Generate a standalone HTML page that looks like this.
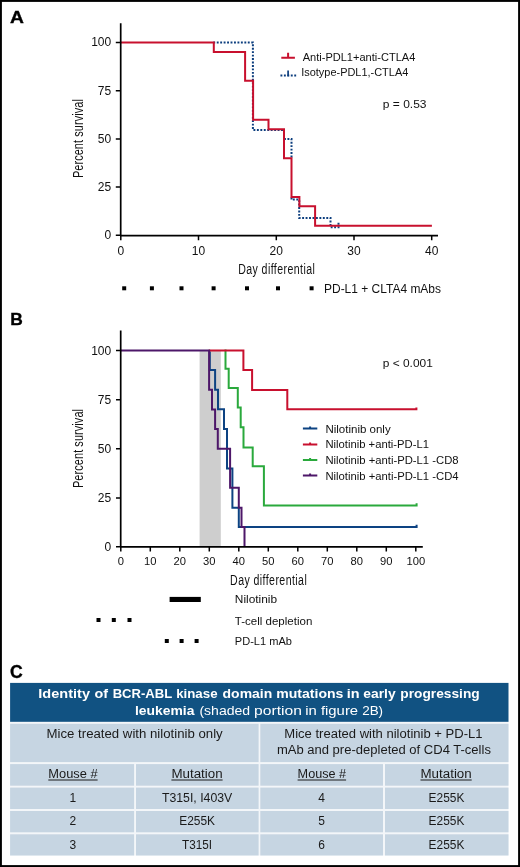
<!DOCTYPE html>
<html>
<head>
<meta charset="utf-8">
<style>
html,body{margin:0;padding:0;background:#fff;}
body{width:520px;height:867px;overflow:hidden;}
svg{display:block;will-change:transform;}
text{font-family:"Liberation Sans",sans-serif;}
</style>
</head>
<body>
<svg width="520" height="867" viewBox="0 0 520 867">
<rect x="0" y="0" width="520" height="867" fill="#fff"/>
<!-- outer border -->
<rect x="0.9" y="0.9" width="518.2" height="865.2" fill="none" stroke="#000" stroke-width="2"/>

<!-- ============ PANEL A ============ -->
<text transform="translate(9.9,23) scale(1.12,1)" font-size="17.2" font-weight="700" fill="#000" stroke="#000" stroke-width="0.35">A</text>

<g id="A">
  <!-- curves -->
  <path d="M213.3,42.5 H252.9 V130 H284 M284,138.9 H291.5 V158.3 M291.5,197.5 V199.6 H299.2 V217.9 H330.5 V227.3 H338.5 V221.8" fill="none" stroke="#0c3e7e" stroke-width="2" stroke-dasharray="1.9 1.55"/>
  <path d="M120.7,42.5 H213.8 V52.1 H245.1 V80.8 H253.1 V119.7 H268.5 V129.2 H284 V158.3 H291.5 V197.1 H299.4 V206.3 H315.1 V225.8 H431.9" fill="none" stroke="#c8102e" stroke-width="2"/>
  <!-- axes -->
  <path d="M120.7,23.3 V235.6 M120,235.6 H438" stroke="#000" stroke-width="1.7" fill="none"/>
  <path d="M115.8,42.5 H120.7 M115.8,90.7 H120.7 M115.8,138.9 H120.7 M115.8,187.1 H120.7 M115.8,235.3 H120.7" stroke="#000" stroke-width="1.5"/>
  <path d="M120.8,235.6 V240.2 M198.5,235.6 V240.2 M276.3,235.6 V240.2 M354,235.6 V240.2 M431.7,235.6 V240.2" stroke="#000" stroke-width="1.5"/>
  <!-- y tick labels -->
  <g font-size="12" fill="#111" text-anchor="end">
    <text x="111.2" y="46">100</text>
    <text x="111.2" y="94.5">75</text>
    <text x="111.2" y="142.7">50</text>
    <text x="111.2" y="190.9">25</text>
    <text x="111.2" y="239.1">0</text>
  </g>
  <!-- x tick labels -->
  <g font-size="12" fill="#111" text-anchor="middle">
    <text x="120.8" y="254.9">0</text>
    <text x="198.5" y="254.9">10</text>
    <text x="276.3" y="254.9">20</text>
    <text x="354" y="254.9">30</text>
    <text x="431.7" y="254.9">40</text>
  </g>
  <text transform="translate(82.9,138.6) rotate(-90) scale(0.76,1)" text-anchor="middle" font-size="14.4" fill="#111" textLength="104" lengthAdjust="spacing">Percent survival</text>
  <text transform="translate(238.2,273.8) scale(0.74,1)" font-size="14.3" fill="#111" textLength="103.6" lengthAdjust="spacing">Day differential</text>
  <!-- legend -->
  <path d="M281.3,57.8 H294.9 M288.1,52.8 V57.8" stroke="#c8102e" stroke-width="2" fill="none"/>
  <path d="M280.45,75.6 H296.5" stroke="#0c3e7e" stroke-width="2" stroke-dasharray="1.9 1.55" fill="none"/>
  <path d="M288.1,70.6 V76.2" stroke="#0c3e7e" stroke-width="1.7" fill="none"/>
  <text x="302.7" y="61.2" font-size="11" fill="#111" textLength="112.6" lengthAdjust="spacingAndGlyphs">Anti-PDL1+anti-CTLA4</text>
  <text x="301.2" y="76.2" font-size="11" fill="#111" textLength="107.1" lengthAdjust="spacingAndGlyphs">Isotype-PDL1,-CTLA4</text>
  <text x="382.8" y="108.2" font-size="11" fill="#111" textLength="43.7" lengthAdjust="spacingAndGlyphs">p = 0.53</text>
  <!-- dosing squares -->
  <g fill="#000">
    <rect x="122.2" y="286.3" width="4" height="4"/>
    <rect x="149.9" y="286.3" width="4" height="4"/>
    <rect x="179.5" y="286.3" width="4" height="4"/>
    <rect x="211.6" y="286.3" width="4" height="4"/>
    <rect x="245" y="286.3" width="4" height="4"/>
    <rect x="276" y="286.3" width="4" height="4"/>
    <rect x="309.6" y="286.3" width="4" height="4"/>
  </g>
  <text x="324" y="292.5" font-size="12" fill="#111" textLength="117" lengthAdjust="spacingAndGlyphs">PD-L1 + CLTA4 mAbs</text>
</g>

<!-- ============ PANEL B ============ -->
<text x="10.3" y="325.2" font-size="17.4" font-weight="700" fill="#000" stroke="#000" stroke-width="0.35">B</text>
<g id="B">
  <rect x="199.6" y="350.6" width="21.2" height="196.2" fill="#cecece"/>
  <!-- curves -->
  <path d="M224.5,350.6 H225.5 V368.7 H228.7 V388.1 H237.8 V407.6 H240.7 V427.2 H243.5 V447.4 H252.7 V466.2 H263.9 V505.4 H416.6 V503.2" fill="none" stroke="#2aa93c" stroke-width="2"/>
  <path d="M209.8,351.5 V370.1 H215.1 V389.8 H218 V409.2 H224 V428.9 H227 V468.5 H232.4 V507.7 H238.8 V526.9 H416.6 V524.8" fill="none" stroke="#0d4382" stroke-width="2"/>
  <path d="M208.6,350.6 H243.4 V370.1 H252.1 V390 H287.3 V409.3 H416.4 V407.4" fill="none" stroke="#c8102e" stroke-width="2"/>
  <path d="M120.7,350.6 H209.1 V389.8 H212 V409.5 H215.1 V428.9 H217.8 V448.8 H230.1 V487.7 H238.8 V507.7 H241.5 V526.9 H244.5 V546.2" fill="none" stroke="#4d1769" stroke-width="2"/>
  <!-- axes -->
  <path d="M120.7,330.4 V546.8 M120,546.8 H422.8" stroke="#000" stroke-width="1.7" fill="none"/>
  <path d="M116,350.6 H120.7 M116,399.7 H120.7 M116,448.8 H120.7 M116,497.9 H120.7 M116,546.8 H120.7" stroke="#000" stroke-width="1.5"/>
  <path d="M120.8,546.8 V551.4 M150.3,546.8 V551.4 M179.8,546.8 V551.4 M209.3,546.8 V551.4 M238.8,546.8 V551.4 M268.3,546.8 V551.4 M297.8,546.8 V551.4 M327.3,546.8 V551.4 M356.8,546.8 V551.4 M386.3,546.8 V551.4 M415.8,546.8 V551.4" stroke="#000" stroke-width="1.5"/>
  <g font-size="12" fill="#111" text-anchor="end">
    <text x="111.2" y="354.6">100</text>
    <text x="111.2" y="403.7">75</text>
    <text x="111.2" y="452.8">50</text>
    <text x="111.2" y="501.9">25</text>
    <text x="111.2" y="550.8">0</text>
  </g>
  <g font-size="11.2" fill="#111" text-anchor="middle">
    <text x="120.8" y="564.9">0</text>
    <text x="150.3" y="564.9">10</text>
    <text x="179.8" y="564.9">20</text>
    <text x="209.3" y="564.9">30</text>
    <text x="238.8" y="564.9">40</text>
    <text x="268.3" y="564.9">50</text>
    <text x="297.8" y="564.9">60</text>
    <text x="327.3" y="564.9">70</text>
    <text x="356.8" y="564.9">80</text>
    <text x="386.3" y="564.9">90</text>
    <text x="415.8" y="564.9">100</text>
  </g>
  <text transform="translate(82.9,448.5) rotate(-90) scale(0.76,1)" text-anchor="middle" font-size="14.4" fill="#111" textLength="104" lengthAdjust="spacing">Percent survival</text>
  <text transform="translate(230.1,584.9) scale(0.74,1)" font-size="14.3" fill="#111" textLength="103.6" lengthAdjust="spacing">Day differential</text>
  <text x="382.8" y="367.2" font-size="11" fill="#111" textLength="50" lengthAdjust="spacingAndGlyphs">p &lt; 0.001</text>
  <!-- legend -->
  <path d="M302.9,428.6 H317.3 M310.1,426.6 V428.6" stroke="#0d4382" stroke-width="2" fill="none"/>
  <path d="M302.9,444.4 H317.3 M310.1,442.4 V444.4" stroke="#c8102e" stroke-width="2" fill="none"/>
  <path d="M302.9,460.1 H317.3 M310.1,458.1 V460.1" stroke="#2aa93c" stroke-width="2" fill="none"/>
  <path d="M302.9,475.6 H317.3 M310.1,473.6 V475.6" stroke="#4d1769" stroke-width="2" fill="none"/>
  <g font-size="10.7" fill="#111">
    <text x="325.4" y="432.6" textLength="65.3" lengthAdjust="spacingAndGlyphs">Nilotinib only</text>
    <text x="325.4" y="448.3" textLength="103.6" lengthAdjust="spacingAndGlyphs">Nilotinib +anti-PD-L1</text>
    <text x="325.4" y="464" textLength="133.2" lengthAdjust="spacingAndGlyphs">Nilotinib +anti-PD-L1 -CD8</text>
    <text x="325.4" y="479.7" textLength="133.2" lengthAdjust="spacingAndGlyphs">Nilotinib +anti-PD-L1 -CD4</text>
  </g>
  <!-- treatment schedule -->
  <rect x="169.6" y="596.9" width="31.2" height="5.1" fill="#000"/>
  <g fill="#000">
    <rect x="96.5" y="618" width="4" height="4"/>
    <rect x="111.8" y="618" width="4" height="4"/>
    <rect x="127.5" y="618" width="4" height="4"/>
    <rect x="164.8" y="639" width="4" height="4"/>
    <rect x="179.6" y="639" width="4" height="4"/>
    <rect x="194.6" y="639" width="4" height="4"/>
  </g>
  <g font-size="11" fill="#111">
    <text x="234.8" y="603.4" textLength="42.3" lengthAdjust="spacingAndGlyphs">Nilotinib</text>
    <text x="234.8" y="624.5" textLength="77.5" lengthAdjust="spacingAndGlyphs">T-cell depletion</text>
    <text x="234.8" y="645.3" textLength="57.1" lengthAdjust="spacingAndGlyphs">PD-L1 mAb</text>
  </g>
</g>

<!-- ============ PANEL C ============ -->
<text x="9.9" y="678" font-size="17.6" font-weight="700" fill="#000" stroke="#000" stroke-width="0.35">C</text>
<g id="C">
  <rect x="10.1" y="682.9" width="498.4" height="39" fill="#115282"/>
  <rect x="10.1" y="721.9" width="498.4" height="133.6" fill="#f3f6f9"/>
  <g fill="#c6d5e2">
    <rect x="10.1" y="723.8" width="248.5" height="38.3"/>
    <rect x="260.3" y="723.8" width="248.2" height="38.3"/>
    <rect x="10.1" y="764.1" width="124" height="21.6"/>
    <rect x="136" y="764.1" width="122.6" height="21.6"/>
    <rect x="260.3" y="764.1" width="122.7" height="21.6"/>
    <rect x="385" y="764.1" width="123.5" height="21.6"/>
    <rect x="10.1" y="787.6" width="124" height="21.4"/>
    <rect x="136" y="787.6" width="122.6" height="21.4"/>
    <rect x="260.3" y="787.6" width="122.7" height="21.4"/>
    <rect x="385" y="787.6" width="123.5" height="21.4"/>
    <rect x="10.1" y="811" width="124" height="21.3"/>
    <rect x="136" y="811" width="122.6" height="21.3"/>
    <rect x="260.3" y="811" width="122.7" height="21.3"/>
    <rect x="385" y="811" width="123.5" height="21.3"/>
    <rect x="10.1" y="834.3" width="124" height="21.2"/>
    <rect x="136" y="834.3" width="122.6" height="21.2"/>
    <rect x="260.3" y="834.3" width="122.7" height="21.2"/>
    <rect x="385" y="834.3" width="123.5" height="21.2"/>
  </g>
  <g fill="#fff">
    <text x="38.34" y="698" font-size="13.7" font-weight="700" textLength="51.64" lengthAdjust="spacingAndGlyphs">Identity</text>
    <text x="94.48" y="698" font-size="13.7" font-weight="700" textLength="13.54" lengthAdjust="spacingAndGlyphs">of</text>
    <text x="112.64" y="698" font-size="13.7" font-weight="700" textLength="59.58" lengthAdjust="spacingAndGlyphs">BCR-ABL</text>
    <text x="176.13" y="698" font-size="13.7" font-weight="700" textLength="41.44" lengthAdjust="spacingAndGlyphs">kinase</text>
    <text x="222.59" y="698" font-size="13.7" font-weight="700" textLength="49.65" lengthAdjust="spacingAndGlyphs">domain</text>
    <text x="276.27" y="698" font-size="13.7" font-weight="700" textLength="67.1" lengthAdjust="spacingAndGlyphs">mutations</text>
    <text x="346.75" y="698" font-size="13.7" font-weight="700" textLength="12.83" lengthAdjust="spacingAndGlyphs">in</text>
    <text x="363.29" y="698" font-size="13.7" font-weight="700" textLength="32.33" lengthAdjust="spacingAndGlyphs">early</text>
    <text x="400.3" y="698" font-size="13.7" font-weight="700" textLength="79.37" lengthAdjust="spacingAndGlyphs">progressing</text>
    <text x="134.99" y="714.9" font-size="13.7" font-weight="700" textLength="59.46" lengthAdjust="spacingAndGlyphs">leukemia</text>
    <text x="199.43" y="714.9" font-size="13.7" textLength="50.76" lengthAdjust="spacingAndGlyphs">(shaded</text>
    <text x="254.06" y="714.9" font-size="13.7" textLength="47.82" lengthAdjust="spacingAndGlyphs">portion</text>
    <text x="305.31" y="714.9" font-size="13.7" textLength="11.57" lengthAdjust="spacingAndGlyphs">in</text>
    <text x="320.93" y="714.9" font-size="13.7" textLength="37.19" lengthAdjust="spacingAndGlyphs">figure</text>
    <text x="362.16" y="714.9" font-size="13.7" textLength="20.93" lengthAdjust="spacingAndGlyphs">2B)</text>
  </g>
  <g fill="#1a1a1a" font-size="12">
    <text x="46.5" y="738.4" textLength="176.2" lengthAdjust="spacingAndGlyphs">Mice treated with nilotinib only</text>
    <text x="284.3" y="738.3" textLength="198.2" lengthAdjust="spacingAndGlyphs">Mice treated with nilotinib + PD-L1</text>
    <text x="276.9" y="754" textLength="214" lengthAdjust="spacingAndGlyphs">mAb and pre-depleted of CD4 T-cells</text>
    <text x="48.3" y="778.1" textLength="49.3" lengthAdjust="spacingAndGlyphs">Mouse #</text>
    <text x="171.4" y="778.1" textLength="51.2" lengthAdjust="spacingAndGlyphs">Mutation</text>
  </g>
  <path d="M48.3,780 H97.6 M171.4,780 H222.6" stroke="#1a1a1a" stroke-width="1"/>
  <g fill="#1a1a1a" font-size="12" text-anchor="middle">
    <text x="72.8" y="801.7">1</text>
    <text x="197.1" y="801.7" textLength="70.4" lengthAdjust="spacingAndGlyphs">T315I, I403V</text>
    <text x="72.8" y="825.2">2</text>
    <text x="197.1" y="825.2" textLength="35.8" lengthAdjust="spacingAndGlyphs">E255K</text>
    <text x="72.8" y="848.5">3</text>
    <text x="197.1" y="848.5" textLength="30" lengthAdjust="spacingAndGlyphs">T315I</text>
    <text x="321.7" y="801.7">4</text>
    <text x="446.5" y="801.7" textLength="35.8" lengthAdjust="spacingAndGlyphs">E255K</text>
    <text x="321.7" y="825.2">5</text>
    <text x="446.5" y="825.2" textLength="35.8" lengthAdjust="spacingAndGlyphs">E255K</text>
    <text x="321.7" y="848.5">6</text>
    <text x="446.5" y="848.5" textLength="35.8" lengthAdjust="spacingAndGlyphs">E255K</text>
  </g>
  <g fill="#1a1a1a" font-size="12">
    <text x="297.6" y="778.1" textLength="48.5" lengthAdjust="spacingAndGlyphs">Mouse #</text>
    <text x="420.5" y="778.1" textLength="51.2" lengthAdjust="spacingAndGlyphs">Mutation</text>
  </g>
  <path d="M297.6,780 H346.1 M420.5,780 H471.7" stroke="#1a1a1a" stroke-width="1"/>
</g>
</svg>
</body>
</html>
